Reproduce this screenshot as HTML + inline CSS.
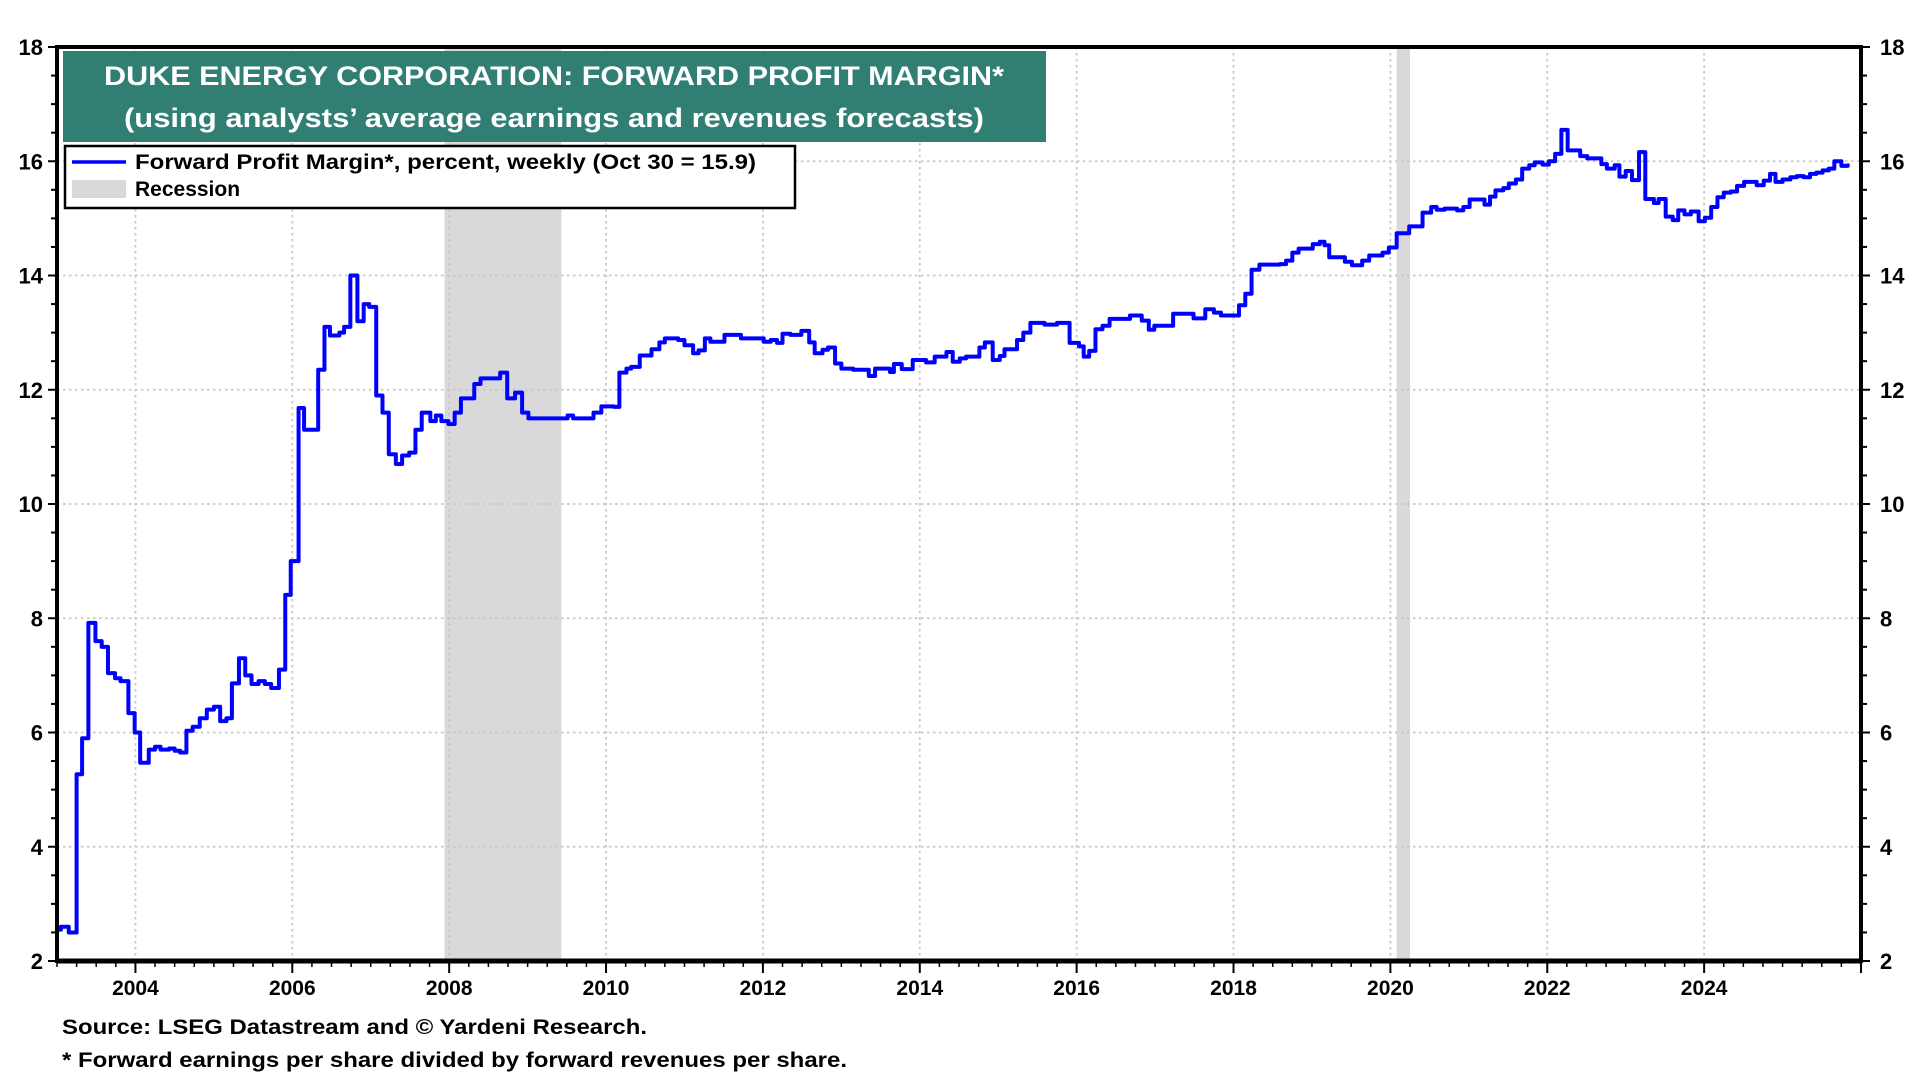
<!DOCTYPE html>
<html><head><meta charset="utf-8"><style>
html,body{margin:0;padding:0;background:#fff;}
svg{display:block;font-family:"Liberation Sans",Arial,sans-serif;font-weight:bold;}
</style></head><body>
<svg id="chart" width="1920" height="1080" viewBox="0 0 1920 1080">
<g id="recessions"></g>
<g id="grid"></g>
<g id="series"></g>
<g id="axes"></g>
<g>
<rect x="63" y="51" width="983" height="91" fill="#317f72"/>
<text x="554" y="85" fill="#fff" font-size="27" text-anchor="middle" textLength="900" lengthAdjust="spacingAndGlyphs">DUKE ENERGY CORPORATION: FORWARD PROFIT MARGIN*</text>
<text x="554" y="127" fill="#fff" font-size="27" text-anchor="middle" textLength="860" lengthAdjust="spacingAndGlyphs">(using analysts’ average earnings and revenues forecasts)</text>
</g>
<g>
<rect x="65" y="146" width="730" height="62" fill="#fff" stroke="#000" stroke-width="2.5"/>
<line x1="72" y1="162" x2="126" y2="162" stroke="#0000ff" stroke-width="3.5"/>
<text x="135" y="169" font-size="21" textLength="621" lengthAdjust="spacingAndGlyphs">Forward Profit Margin*, percent, weekly (Oct 30 = 15.9)</text>
<rect x="72" y="180" width="54" height="18" fill="#d9d9d9"/>
<text x="135" y="196" font-size="21">Recession</text>
</g>
<text x="62" y="1034" font-size="21" textLength="585" lengthAdjust="spacingAndGlyphs">Source: LSEG Datastream and © Yardeni Research.</text>
<text x="62" y="1067" font-size="21" textLength="785" lengthAdjust="spacingAndGlyphs">* Forward earnings per share divided by forward revenues per share.</text>
</svg>
<script>
const dates = [2003.0,2003.05,2003.15,2003.25,2003.32,2003.40,2003.49,2003.57,2003.65,2003.74,2003.81,2003.91,2003.99,2004.06,2004.17,2004.25,2004.32,2004.43,2004.5,2004.57,2004.65,2004.73,2004.82,2004.91,2005.0,2005.08,2005.16,2005.23,2005.32,2005.4,2005.48,2005.57,2005.65,2005.73,2005.83,2005.91,2005.98,2006.08,2006.15,2006.33,2006.41,2006.48,2006.6,2006.66,2006.74,2006.83,2006.91,2006.98,2007.07,2007.15,2007.23,2007.32,2007.4,2007.49,2007.57,2007.65,2007.76,2007.83,2007.9,2007.99,2008.07,2008.15,2008.32,2008.4,2008.65,2008.74,2008.84,2008.93,2009.01,2009.17,2009.51,2009.58,2009.84,2009.94,2010.1,2010.17,2010.26,2010.32,2010.43,2010.58,2010.68,2010.75,2010.92,2011.0,2011.11,2011.18,2011.26,2011.33,2011.51,2011.72,2012.01,2012.1,2012.18,2012.25,2012.35,2012.49,2012.59,2012.66,2012.76,2012.83,2012.92,2013.0,2013.15,2013.35,2013.43,2013.62,2013.67,2013.77,2013.91,2014.08,2014.19,2014.34,2014.42,2014.51,2014.59,2014.76,2014.83,2014.93,2015.02,2015.08,2015.24,2015.32,2015.41,2015.59,2015.75,2015.91,2016.03,2016.09,2016.16,2016.24,2016.33,2016.42,2016.68,2016.83,2016.92,2016.99,2017.23,2017.49,2017.64,2017.75,2017.84,2018.07,2018.15,2018.23,2018.33,2018.59,2018.67,2018.75,2018.83,2019.01,2019.1,2019.16,2019.22,2019.42,2019.51,2019.64,2019.73,2019.9,2019.98,2020.08,2020.24,2020.41,2020.52,2020.59,2020.69,2020.85,2020.93,2021.01,2021.2,2021.27,2021.34,2021.44,2021.51,2021.6,2021.68,2021.77,2021.84,2021.94,2022.02,2022.1,2022.18,2022.26,2022.42,2022.51,2022.69,2022.76,2022.86,2022.92,2023.0,2023.08,2023.17,2023.25,2023.36,2023.42,2023.51,2023.6,2023.67,2023.75,2023.83,2023.93,2024.01,2024.09,2024.17,2024.25,2024.34,2024.42,2024.51,2024.67,2024.76,2024.84,2024.91,2025.0,2025.1,2025.18,2025.27,2025.35,2025.43,2025.51,2025.59,2025.66,2025.75,2025.83];
const margins = [2.55,2.6,2.5,5.27,5.9,7.92,7.6,7.5,7.04,6.95,6.9,6.34,6.0,5.47,5.7,5.75,5.7,5.72,5.68,5.65,6.03,6.1,6.25,6.4,6.45,6.2,6.25,6.86,7.3,7.0,6.85,6.9,6.85,6.78,7.1,8.41,9.0,11.68,11.3,12.35,13.1,12.95,13.0,13.1,14.0,13.2,13.5,13.45,11.9,11.6,10.87,10.7,10.85,10.9,11.3,11.6,11.45,11.55,11.45,11.4,11.6,11.85,12.1,12.2,12.3,11.85,11.95,11.6,11.5,11.5,11.55,11.5,11.6,11.71,11.7,12.3,12.37,12.4,12.6,12.71,12.83,12.9,12.87,12.78,12.64,12.69,12.9,12.84,12.96,12.9,12.84,12.87,12.82,12.98,12.96,13.03,12.83,12.64,12.7,12.74,12.46,12.37,12.35,12.24,12.37,12.31,12.45,12.36,12.52,12.48,12.58,12.66,12.49,12.55,12.58,12.74,12.83,12.52,12.59,12.71,12.87,13.0,13.17,13.14,13.17,12.82,12.76,12.58,12.68,13.06,13.12,13.24,13.3,13.21,13.05,13.12,13.33,13.25,13.41,13.35,13.3,13.48,13.68,14.1,14.19,14.2,14.26,14.4,14.47,14.55,14.59,14.53,14.32,14.24,14.18,14.26,14.35,14.4,14.49,14.74,14.86,15.1,15.2,15.15,15.17,15.14,15.2,15.33,15.24,15.38,15.49,15.53,15.61,15.68,15.87,15.93,15.98,15.94,16.0,16.13,16.55,16.19,16.09,16.05,15.95,15.87,15.93,15.73,15.83,15.67,16.16,15.34,15.27,15.34,15.03,14.97,15.14,15.07,15.12,14.95,15.01,15.2,15.37,15.45,15.47,15.57,15.64,15.58,15.66,15.78,15.64,15.68,15.72,15.74,15.72,15.78,15.8,15.84,15.87,16.0,15.92,15.96];
const recStarts = [2007.94, 2020.08];
const recEnds = [2009.43, 2020.25];
const yTicks = [2,4,6,8,10,12,14,16,18];
const xTickYears = [2004,2006,2008,2010,2012,2014,2016,2018,2020,2022,2024];

const NS = "http://www.w3.org/2000/svg";
const L = 57, R = 1861, T = 47, B = 961;
const X0 = 2003, X1 = 2026, Y0 = 2, Y1 = 18;
function xs(v){ return L + (v - X0) / (X1 - X0) * (R - L); }
function ys(v){ return B - (v - Y0) / (Y1 - Y0) * (B - T); }
function mk(tag, attrs, parent){ const e = document.createElementNS(NS, tag); for (const k in attrs) e.setAttribute(k, attrs[k]); parent.appendChild(e); return e; }

const gRec = document.getElementById('recessions');
for (let i = 0; i < recStarts.length; i++) {
  const r = mk('rect', {x: xs(recStarts[i]), y: T, width: xs(recEnds[i]) - xs(recStarts[i]), height: B - T, fill: '#d9d9d9'}, gRec);
  
  
}
const gGrid = document.getElementById('grid');
yTicks.forEach(v => {
  if (v === Y0 || v === Y1) return;
  const l = mk('line', {x1: L, x2: R, y1: ys(v), y2: ys(v), stroke: '#c8c8c8', 'stroke-width': 1.8, 'stroke-dasharray': '2.5 3.5'}, gGrid);
  
  
});
xTickYears.forEach(v => {
  const l = mk('line', {x1: xs(v), x2: xs(v), y1: T, y2: B, stroke: '#c8c8c8', 'stroke-width': 1.8, 'stroke-dasharray': '2.5 3.5'}, gGrid);
  
  
});

const gS = document.getElementById('series');
let d = 'M' + xs(dates[0]) + ' ' + ys(margins[0]);
for (let i = 1; i < dates.length; i++) {
  d += ' L' + xs(dates[i]) + ' ' + ys(margins[i-1]) + ' L' + xs(dates[i]) + ' ' + ys(margins[i]);
}
const path = mk('path', {d: d, fill: 'none', stroke: '#0000ff', 'stroke-width': 4, 'stroke-linejoin': 'round'}, gS);



const gA = document.getElementById('axes');
const frame = mk('rect', {x: L, y: T, width: R - L, height: B - T, fill: 'none', stroke: '#000', 'stroke-width': 4}, gA);


const bl = mk('line', {x1: L, x2: R, y1: B, y2: B, stroke: '#000', 'stroke-width': 5}, gA);


for (let v = Y0; v <= Y1 + 0.001; v += 0.5) {
  const major = Math.abs(v - Math.round(v / 2) * 2) < 0.001;
  const len = major ? 9 : 6;
  mk('line', {x1: L - len, x2: L, y1: ys(v), y2: ys(v), stroke: '#000', 'stroke-width': 2}, gA);
  mk('line', {x1: R, x2: R + len, y1: ys(v), y2: ys(v), stroke: '#000', 'stroke-width': 2}, gA);
}
yTicks.forEach(v => {
  const t1 = mk('text', {x: 43, y: ys(v) + 8, 'font-size': 22, 'text-anchor': 'end'}, gA);
  t1.textContent = v;
  
  
  const t2 = mk('text', {x: 1880, y: ys(v) + 8, 'font-size': 22}, gA);
  t2.textContent = v;
  
  
});
for (let v = X0; v <= X1 + 0.001; v += 0.25) {
  const isYear = Math.abs(v - Math.round(v)) < 0.001;
  const even = isYear && Math.round(v) % 2 === 0;
  const len = even ? 12 : 6;
  mk('line', {x1: xs(v), x2: xs(v), y1: B, y2: B + len, stroke: '#000', 'stroke-width': even ? 2 : 1.5}, gA);
}
xTickYears.forEach(v => {
  const t = mk('text', {x: xs(v), y: 995, 'font-size': 21, 'text-anchor': 'middle'}, gA);
  t.textContent = v;
  
  
});
</script>
</body></html>
